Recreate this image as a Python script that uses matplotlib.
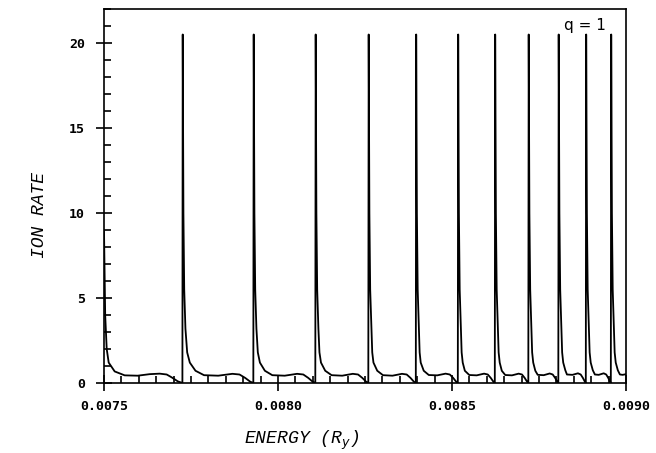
import matplotlib
matplotlib.use("Agg")
import matplotlib.pyplot as plt
from matplotlib.ticker import MultipleLocator

# energy (Ry) and ion rate, one list per resonance interval
energy_0 = [0.0075000, 0.0075034, 0.0075078, 0.0075135, 0.0075307, 0.0075595,
            0.0075968, 0.0076313, 0.0076601, 0.0076802, 0.0076946, 0.0077118, 0.0077253]
rate_0 = [9.0, 4.0, 2.0, 1.2, 0.68, 0.45, 0.43, 0.52, 0.55, 0.5, 0.33, 0.1, 0.0]

energy_1 = [0.0077262, 0.0077282, 0.0077305, 0.0077340, 0.0077390, 0.0077466, 0.0077629,
            0.0077874, 0.0078282, 0.0078690, 0.0078894, 0.0079057, 0.0079200, 0.0079291]
rate_1 = [20.5, 10.0, 5.5, 3.2, 1.8, 1.2, 0.72, 0.46, 0.43, 0.54, 0.5, 0.3, 0.08, 0.0]

energy_2 = [0.0079302, 0.0079322, 0.0079345, 0.0079380, 0.0079420, 0.0079480, 0.0079623,
            0.0079836, 0.0080193, 0.0080549, 0.0080727, 0.0080869, 0.0080994, 0.0081072]
rate_2 = [20.5, 10.0, 5.5, 3.2, 1.8, 1.2, 0.72, 0.46, 0.43, 0.54, 0.5, 0.3, 0.08, 0.0]

energy_3 = [0.0081083, 0.0081103, 0.0081126, 0.0081161, 0.0081191, 0.0081235, 0.0081357,
            0.0081540, 0.0081845, 0.0082149, 0.0082301, 0.0082423, 0.0082530, 0.0082595]
rate_3 = [20.5, 10.0, 5.5, 3.2, 1.8, 1.2, 0.72, 0.46, 0.43, 0.54, 0.5, 0.3, 0.08, 0.0]

energy_4 = [0.0082606, 0.0082626, 0.0082649, 0.0082684, 0.0082708, 0.0082743, 0.0082852,
            0.0083016, 0.0083289, 0.0083562, 0.0083698, 0.0083807, 0.0083903, 0.0083960]
rate_4 = [20.5, 10.0, 5.5, 3.2, 1.8, 1.2, 0.72, 0.46, 0.43, 0.54, 0.5, 0.3, 0.08, 0.0]

energy_5 = [0.0083971, 0.0083991, 0.0084014, 0.0084049, 0.0084070, 0.0084101, 0.0084188,
            0.0084333, 0.0084575, 0.0084816, 0.0084937, 0.0085033, 0.0085118, 0.0085167]
rate_5 = [20.5, 10.0, 5.5, 3.2, 1.8, 1.2, 0.72, 0.47, 0.45, 0.55, 0.5, 0.3, 0.08, 0.0]

energy_6 = [0.0085178, 0.0085198, 0.0085221, 0.0085256, 0.0085277, 0.0085308, 0.0085369,
            0.0085497, 0.0085710, 0.0085922, 0.0086028, 0.0086113, 0.0086188, 0.0086230]
rate_6 = [20.5, 10.0, 5.5, 3.2, 1.8, 1.2, 0.72, 0.47, 0.45, 0.55, 0.5, 0.3, 0.08, 0.0]

energy_7 = [0.0086241, 0.0086261, 0.0086284, 0.0086319, 0.0086340, 0.0086371, 0.0086431,
            0.0086530, 0.0086723, 0.0086915, 0.0087011, 0.0087088, 0.0087156, 0.0087193]
rate_7 = [20.5, 10.0, 5.5, 3.2, 1.8, 1.2, 0.72, 0.47, 0.45, 0.55, 0.5, 0.3, 0.08, 0.0]

energy_8 = [0.0087204, 0.0087224, 0.0087247, 0.0087282, 0.0087303, 0.0087334, 0.0087394,
            0.0087463, 0.0087635, 0.0087807, 0.0087894, 0.0087963, 0.0088023, 0.0088055]
rate_8 = [20.5, 10.0, 5.5, 3.2, 1.8, 1.2, 0.72, 0.48, 0.46, 0.56, 0.5, 0.3, 0.08, 0.0]

energy_9 = [0.0088066, 0.0088086, 0.0088109, 0.0088144, 0.0088165, 0.0088196, 0.0088256,
            0.0088303, 0.0088461, 0.0088619, 0.0088698, 0.0088761, 0.0088817, 0.0088845]
rate_9 = [20.5, 10.0, 5.5, 3.2, 1.8, 1.2, 0.75, 0.5, 0.48, 0.57, 0.5, 0.3, 0.08, 0.0]

energy_10 = [0.0088856, 0.0088876, 0.0088899, 0.0088934, 0.0088955, 0.0088986, 0.0089046,
             0.0089106, 0.0089216, 0.0089359, 0.0089431, 0.0089489, 0.0089539, 0.0089564]
rate_10 = [20.5, 10.0, 5.5, 3.2, 1.8, 1.2, 0.75, 0.5, 0.48, 0.57, 0.5, 0.3, 0.08, 0.0]

energy_11 = [0.0089575, 0.0089595, 0.0089618, 0.0089653, 0.0089674, 0.0089705, 0.0089765,
             0.0089825, 0.0089905, 0.0090000]
rate_11 = [20.5, 10.0, 5.5, 3.2, 1.8, 1.2, 0.75, 0.5, 0.48, 0.52]

x_ticks = [0.0075, 0.0080, 0.0085, 0.0090]
x_labels = ["0.0075", "0.0080", "0.0085", "0.0090"]
y_ticks = [0, 5, 10, 15, 20]
y_labels = ["0", "5", "10", "15", "20"]

energy = (energy_0 + energy_1 + energy_2 + energy_3 + energy_4 + energy_5
          + energy_6 + energy_7 + energy_8 + energy_9 + energy_10 + energy_11)
rate = (rate_0 + rate_1 + rate_2 + rate_3 + rate_4 + rate_5
        + rate_6 + rate_7 + rate_8 + rate_9 + rate_10 + rate_11)

fig = plt.figure(figsize=(6.56, 4.53), dpi=100)
ax = fig.add_axes([104 / 656, 70 / 453, 522 / 656, 374 / 453])

ax.plot(energy, rate, color="black", linewidth=1.3)

ax.set_xlim(0.0075, 0.0090)
ax.set_ylim(0, 22)

ax.set_xticks(x_ticks)
ax.set_xticklabels(x_labels)
ax.set_yticks(y_ticks)
ax.set_yticklabels(y_labels)
ax.xaxis.set_minor_locator(MultipleLocator(0.00005))
ax.yaxis.set_minor_locator(MultipleLocator(1))

ax.tick_params(which="major", direction="inout", length=11, width=1.2)
ax.tick_params(which="minor", direction="in", length=5, width=1.2)
ax.tick_params(axis="x", which="major", pad=7)
ax.tick_params(axis="y", which="major", pad=8)
for lab in ax.get_xticklabels() + ax.get_yticklabels():
    lab.set_family("DejaVu Sans Mono")
    lab.set_fontweight("bold")
    lab.set_fontsize(9.5)

for sp in ax.spines.values():
    sp.set_linewidth(1.2)

ax.text(0.921, 0.957, "q = 1", transform=ax.transAxes, fontsize=11,
        ha="center", va="center", family="DejaVu Sans")

fig.text(40 / 656, 1 - 215 / 453, "ION RATE", rotation=90, ha="center", va="center",
         fontsize=13, family="Liberation Mono", style="italic")
fig.text(302 / 656, 1 - 440 / 453, "ENERGY (R$_{y}$)", ha="center", va="center",
         fontsize=13, family="Liberation Mono", style="italic")

fig.savefig("out.png", dpi=100)
